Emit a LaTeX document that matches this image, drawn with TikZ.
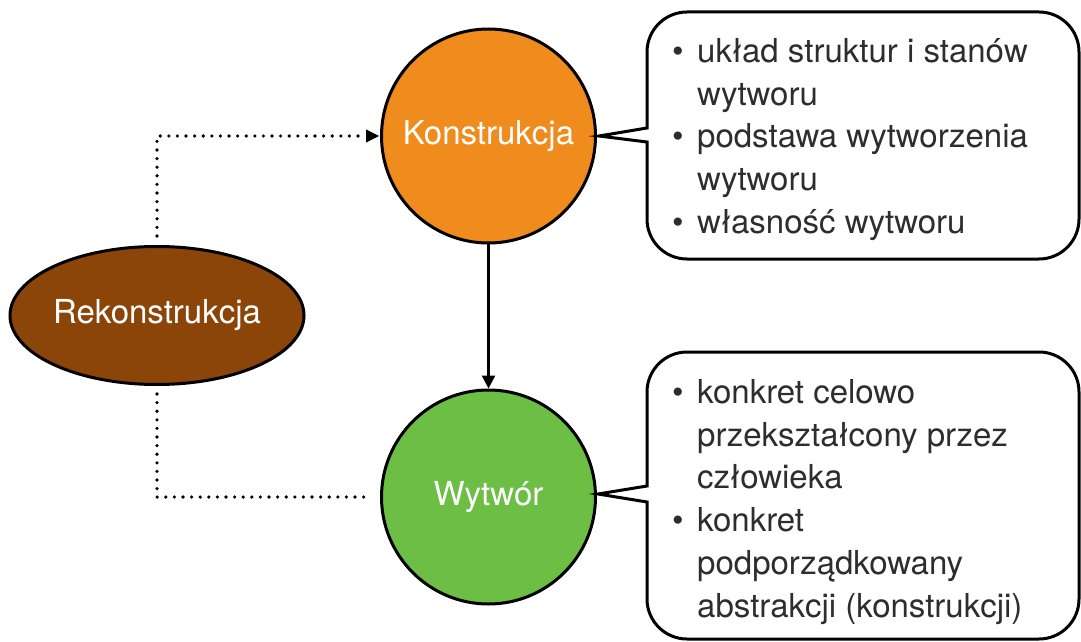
\documentclass[tikz,border=0pt]{standalone}
\usepackage{fontspec}
\setmainfont{TeX Gyre Heros}
\usetikzlibrary{arrows.meta,shapes.geometric}

\definecolor{konorange}{RGB}{240,140,30}
\definecolor{wytgreen}{RGB}{108,191,68}
\definecolor{rekbrown}{RGB}{140,69,9}
\definecolor{bodytext}{RGB}{45,45,45}

\tikzset{
  x=1pt, y=1pt,
  bigfont/.style={font=\fontsize{33}{40}\selectfont},
  circlenode/.style={circle, draw=black, line width=3pt, minimum size=214pt,
    inner sep=0pt, text=white, bigfont},
  ovalnode/.style={ellipse, draw=black, line width=3pt, minimum width=293pt,
    minimum height=138pt, inner sep=0pt, text=white, bigfont},
  dotline/.style={line width=3.6pt, line cap=round, dash pattern=on 0pt off 8.6pt},
  flowarrow/.style={line width=2.5pt, -{Triangle[length=13pt,width=13pt]}},
  tiponly/.style={line width=1pt, -{Triangle[length=13pt,width=13pt]}},
  bubble/.style={draw=black, fill=white, line width=3pt, line join=miter},
  listline/.style={anchor=base west, inner sep=0pt, text=bodytext, bigfont},
}

\begin{document}
\begin{tikzpicture}
\useasboundingbox (0,0) rectangle (1081,641);

% main nodes
\node[circlenode, fill=konorange] (kon) at (488.5,505) {Konstrukcja};
\node[circlenode, fill=wytgreen] (wyt) at (488.5,144) {Wytwór};
\node[ovalnode, fill=rekbrown] (rek) at (157,325.5) {Rekonstrukcja};

% connectors
\draw[flowarrow] (kon) -- (wyt);
\draw[dotline, shorten <=9pt, shorten >=14pt] (rek) |- (kon);
\draw[tiponly] ([xshift=-13pt]kon.west) -- ([xshift=-1pt]kon.west);
\draw[dotline, shorten <=8pt, shorten >=8pt] (rek) |- (wyt);

% speech bubble for Konstrukcja
\draw[bubble]
  (647,499) -- (647,422) arc[start angle=180, end angle=270, radius=40]
  -- (1039,382) arc[start angle=270, end angle=360, radius=40]
  -- (1079,589) arc[start angle=0, end angle=90, radius=40]
  -- (687,629) arc[start angle=90, end angle=180, radius=40]
  -- (647,513) -- (599,505) -- cycle;

% speech bubble for Wytwór
\draw[bubble]
  (647,139) -- (647,42) arc[start angle=180, end angle=270, radius=40]
  -- (1039,2) arc[start angle=270, end angle=360, radius=40]
  -- (1079,249) arc[start angle=0, end angle=90, radius=40]
  -- (687,289) arc[start angle=90, end angle=180, radius=40]
  -- (647,155) -- (598,147) -- cycle;

% list in the first bubble
\node[listline] (ka) at (672,578) {\makebox[25pt][l]{\textbullet}układ struktur i stanów};
\node[listline] (kb) at (697,535) {wytworu};
\node[listline] (kc) at (672,493) {\makebox[25pt][l]{\textbullet}podstawa wytworzenia};
\node[listline] (kd) at (697,450) {wytworu};
\node[listline] (ke) at (672,407) {\makebox[25pt][l]{\textbullet}własność wytworu};

% list in the second bubble
\node[listline] (wa) at (672,238) {\makebox[25pt][l]{\textbullet}konkret celowo};
\node[listline] (wb) at (697,195) {przekształcony przez};
\node[listline] (wc) at (697,153) {człowieka};
\node[listline] (wd) at (672,110) {\makebox[25pt][l]{\textbullet}konkret};
\node[listline] (we) at (697,67) {podporządkowany};
\node[listline] (wf) at (697,24) {abstrakcji (konstrukcji)};
\end{tikzpicture}
\end{document}
